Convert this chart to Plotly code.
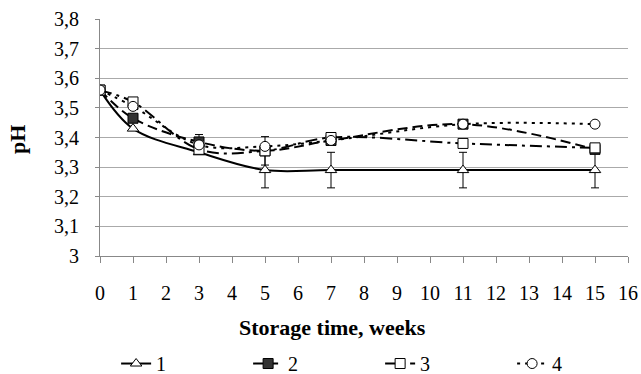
import plotly.graph_objects as go

weeks = [0, 1, 3, 5, 7, 11, 15]
ph_1 = [3.56, 3.43, 3.35, 3.29, 3.29, 3.29, 3.29]
ph_2 = [3.56, 3.465, 3.385, 3.355, 3.39, 3.445, 3.36]
ph_3 = [3.56, 3.52, 3.36, 3.355, 3.40, 3.38, 3.365]
ph_4 = [3.56, 3.505, 3.375, 3.37, 3.39, 3.445, 3.445]
err_1 = [0, 0, 0, 0.06, 0.06, 0.06, 0.06]
err_2 = [0, 0, 0.025, 0, 0, 0, 0]
err_3 = [0, 0, 0, 0.048, 0, 0, 0]
names = ["1", "2", "3", "4"]
y_ticks = [3.0, 3.1, 3.2, 3.3, 3.4, 3.5, 3.6, 3.7, 3.8]
y_tick_text = ["3", "3,1", "3,2", "3,3", "3,4", "3,5", "3,6", "3,7", "3,8"]
x_ticks = list(range(0, 17))

FONT = "Liberation Serif"
FS = 20

fig = go.Figure()

series = [
    (ph_1, err_1, "triangle-up", "white", "solid"),
    (ph_2, err_2, "square", "#333333", "10px,5px"),
    (ph_3, err_3, "square", "white", "12px,5px,3px,5px"),
    (ph_4, None, "circle", "white", "3px,5px"),
]

for (vals, err, sym, fill, dash), nm in zip(series, names):
    kw = {}
    if err is not None:
        kw["error_y"] = dict(type="data", array=err, visible=True,
                             color="black", thickness=1, width=4)
    fig.add_trace(go.Scatter(
        x=weeks, y=vals, name=nm, mode="lines+markers",
        line=dict(color="black", width=2, dash=dash, shape="spline", smoothing=1),
        marker=dict(symbol=sym, size=10, color=fill,
                    line=dict(color="black", width=1)),
        **kw))

fig.update_layout(
    width=641, height=374,
    margin=dict(l=100, r=13, t=19, b=118, autoexpand=False),
    paper_bgcolor="white", plot_bgcolor="white",
    font=dict(family=FONT, size=FS, color="black"),
    showlegend=True,
    legend=dict(orientation="h", xref="container", yref="container",
                x=0.593, xanchor="center", y=0.028, yanchor="middle",
                entrywidth=87, font=dict(family=FONT, size=FS), traceorder="normal",
                bgcolor="rgba(0,0,0,0)"),
    xaxis=dict(range=[0, 16], tickvals=x_ticks, showgrid=False, automargin=False,
               showline=True, linecolor="#888888", linewidth=1,
               ticks="outside", ticklen=6, tickcolor="#888888",
               ticklabelstandoff=13, zeroline=False,
               tickfont=dict(family=FONT, size=FS)),
    yaxis=dict(range=[3.0, 3.8], tickvals=y_ticks, ticktext=y_tick_text,
               showgrid=True, gridcolor="#aaaaaa", gridwidth=1, automargin=False,
               showline=True, linecolor="#888888", linewidth=1,
               ticks="outside", ticklen=4, tickcolor="#888888",
               ticklabelstandoff=12, zeroline=False,
               tickfont=dict(family=FONT, size=FS)),
    annotations=[
        dict(text="<b>Storage time, weeks</b>", xref="paper", yref="paper",
             x=0.44, y=-0.30, xanchor="center", yanchor="middle",
             showarrow=False, font=dict(family=FONT, size=22)),
        dict(text="<b>pH</b>", xref="paper", yref="paper",
             x=-0.155, y=0.49, xanchor="center", yanchor="middle",
             textangle=-90, showarrow=False, font=dict(family=FONT, size=22)),
    ],
)

fig.write_html("out.html", config={"displayModeBar": False},
               post_script="document.body.style.margin='0px';document.body.style.overflow='hidden';")
